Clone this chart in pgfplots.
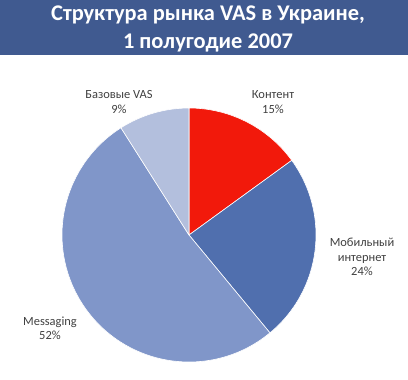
\documentclass[border=0pt]{standalone}
\usepackage{pgfplots}
\pgfplotsset{compat=1.18}
\usepackage{pgfplotstable}
\usepackage{fontspec}
\setmainfont{Carlito}
\definecolor{titlebg}{HTML}{405A90}
\definecolor{cRed}{HTML}{F2190B}
\definecolor{cMob}{HTML}{506FAE}
\definecolor{cMsg}{HTML}{8096C9}
\definecolor{cBas}{HTML}{B3BFDD}
\definecolor{lbl}{HTML}{404040}
\pgfplotstableread{
name value color
Kontent 15 cRed
Mobile 24 cMob
Messaging 52 cMsg
Basic 9 cBas
}\piedata
\begin{document}
\begin{tikzpicture}
\path[use as bounding box] (0,0) rectangle (408bp,380bp);
\begin{axis}[x=1bp,y=1bp,xmin=0,xmax=408,ymin=0,ymax=380,
  anchor=south west, at={(0,0)}, scale only axis, hide axis, clip=false]
\fill[titlebg] (0,325) rectangle (408,380);
\node[text=white,font=\bfseries\fontsize{22.5}{27.5}\selectfont,align=center] at (208,351)
  {Структура рынка VAS в Украине,\\1 полугодие 2007};
% pie
\pgfplotstablegetrowsof{\piedata}
\pgfmathtruncatemacro{\nrows}{\pgfplotsretval-1}
\gdef\startang{90}
\foreach \i in {0,...,\nrows}{
  \pgfplotstablegetelem{\i}{value}\of{\piedata}
  \let\val\pgfplotsretval
  \pgfplotstablegetelem{\i}{color}\of{\piedata}
  \let\col\pgfplotsretval
  \pgfmathsetmacro{\endang}{\startang-3.6*\val}
  \pgfmathsetmacro{\sx}{189+127*cos(\startang)}
  \pgfmathsetmacro{\sy}{145+127*sin(\startang)}
  \edef\temp{\noexpand\filldraw[fill=\col,draw=white,line width=0.6bp,line join=round]
    (189,145) -- (\sx,\sy) arc[start angle=\startang, end angle=\endang, radius=127bp] -- cycle;}
  \temp
  \global\let\startang\endang
}
\begin{scope}[every node/.style={text=lbl,font=\fontsize{12.5}{14.5}\selectfont,align=center}]
\node at (273,278) {Контент\\15\%};
\node at (119,278) {Базовые VAS\\9\%};
\node at (362,123) {Мобильный\\интернет\\24\%};
\node at (50,52) {Messaging\\52\%};
\end{scope}
\end{axis}
\end{tikzpicture}
\end{document}
